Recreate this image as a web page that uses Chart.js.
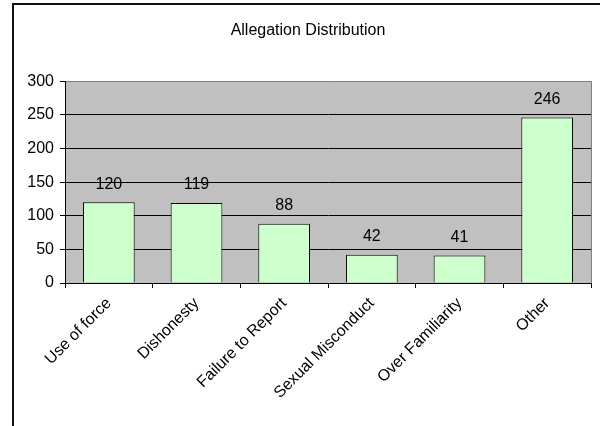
<!DOCTYPE html>
<html>
<head>
<meta charset="utf-8">
<script src="https://cdn.jsdelivr.net/npm/chart.js@4/dist/chart.umd.min.js"></script>
<style>
  html, body { margin: 0; padding: 0; background: #fff; }
  #wrap { position: relative; width: 600px; height: 426px; overflow: hidden; }
  #frame { position: absolute; left: 12px; top: 3px; width: 700px; height: 600px;
           border-left: 2px solid #111; border-top: 2px solid #111; }
  canvas { position: absolute; left: 0; top: 0; }
</style>
</head>
<body>
<div id="wrap">
  <div id="frame"></div>
  <canvas id="chart" width="600" height="426"></canvas>
</div>
<script>
const categories = ["Use of force", "Dishonesty", "Failure to Report", "Sexual Misconduct", "Over Familiarity", "Other"];
const allegations = [120, 119, 88, 42, 41, 246];
const yTicks = [0, 50, 100, 150, 200, 250, 300];

const FONT = "'Liberation Sans', Arial, sans-serif";

// grey plot area and the grey right edge, like the old spreadsheet look
const plotArea = {
  id: "plotArea",
  beforeDraw(chart) {
    const a = chart.chartArea, c = chart.ctx;
    c.save();
    c.fillStyle = "#C0C0C0";
    c.fillRect(a.left, a.top, a.right - a.left, a.bottom - a.top);
    c.restore();
  },
  afterDraw(chart) {
    const a = chart.chartArea, c = chart.ctx;
    c.save();
    c.strokeStyle = "#808080";
    c.lineWidth = 1;
    c.beginPath();
    c.moveTo(a.right + 0.5, a.top);
    c.lineTo(a.right + 0.5, a.bottom);
    c.stroke();
    c.restore();
  }
};

// value labels above each bar
const valueLabels = {
  id: "valueLabels",
  afterDatasetsDraw(chart) {
    const c = chart.ctx;
    const meta = chart.getDatasetMeta(0);
    c.save();
    c.font = "16px " + FONT;
    c.fillStyle = "#000";
    c.textAlign = "center";
    c.textBaseline = "bottom";
    meta.data.forEach((bar, i) => {
      c.fillText(String(allegations[i]), bar.x, bar.y - 10);
    });
    c.restore();
  }
};

new Chart(document.getElementById("chart"), {
  type: "bar",
  data: {
    labels: categories,
    datasets: [{
      data: allegations,
      backgroundColor: "#CCFFCC",
      borderColor: "#000",
      borderWidth: 1,
      barPercentage: 0.59,
      categoryPercentage: 1
    }]
  },
  options: {
    responsive: false,
    animation: false,
    layout: { padding: { left: 25, right: 9, top: 0, bottom: 0 } },
    plugins: {
      legend: { display: false },
      tooltip: { enabled: false },
      title: {
        display: true,
        text: "Allegation Distribution",
        color: "#000",
        font: { family: FONT, size: 16, weight: "normal" },
        padding: { top: 21, bottom: 41 }
      }
    },
    scales: {
      x: {
        afterFit(scale) { scale.height = 143; },
        border: { color: "#000", width: 1 },
        grid: { drawOnChartArea: false, drawTicks: true, tickLength: 5, color: "#000", offset: true },
        ticks: {
          color: "#000",
          font: { family: FONT, size: 16 },
          minRotation: 45,
          maxRotation: 45,
          padding: 6
        }
      },
      y: {
        min: 0,
        max: 300,
        afterFit(scale) { scale.width = 40; },
        afterBuildTicks(scale) { scale.ticks = yTicks.map(v => ({ value: v })); },
        border: { color: "#000", width: 1 },
        grid: {
          color: ctx => (ctx.tick && ctx.tick.value === 300) ? "#808080" : "#000",
          tickColor: "#000",
          tickLength: 5
        },
        ticks: {
          color: "#000",
          font: { family: FONT, size: 16 },
          padding: 6
        }
      }
    }
  },
  plugins: [plotArea, valueLabels]
});
</script>
</body>
</html>
